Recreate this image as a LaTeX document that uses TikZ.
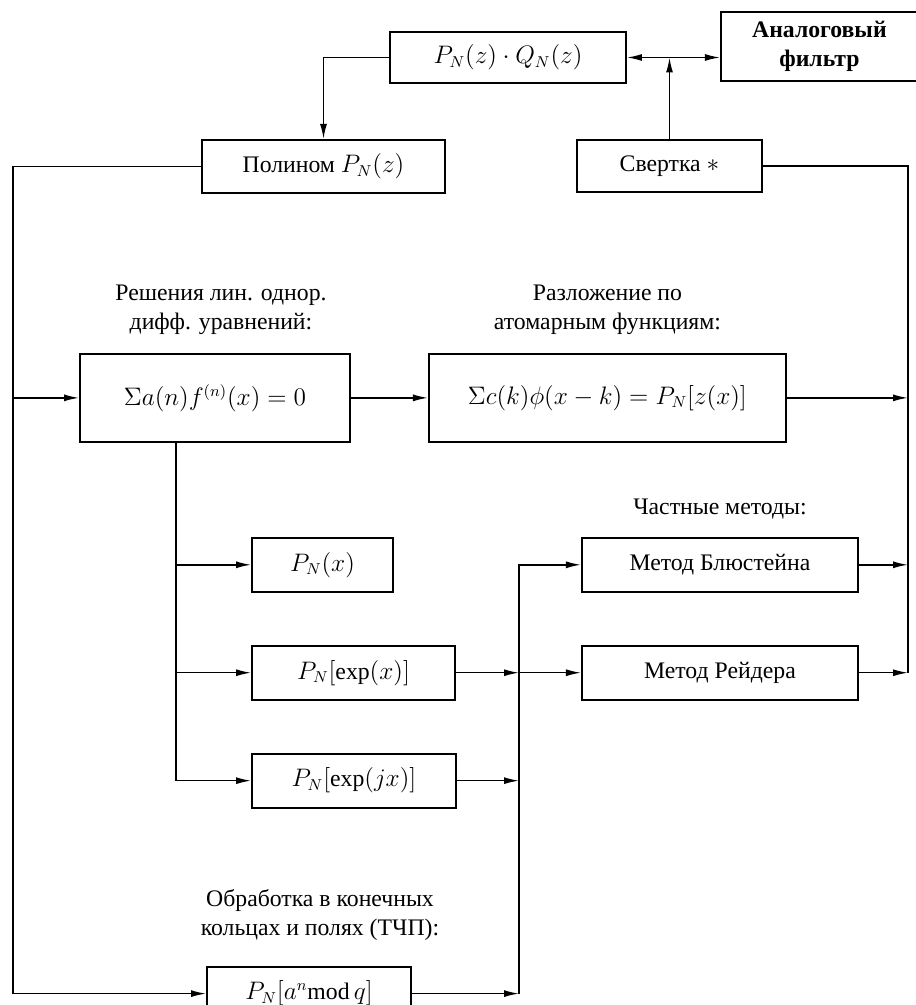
\documentclass[tikz,border=0pt]{standalone}
\usepackage{fontspec}
\setmainfont{Liberation Serif}
\usepackage{amsmath}
\usetikzlibrary{arrows.meta,positioning}
\newcommand{\diagfont}{\fontsize{13.5}{16.5}\selectfont}
\tikzset{
  blk/.style={draw,line width=1.1pt,inner sep=2pt,align=center,font=\diagfont},
  note/.style={align=center,inner sep=0pt,font=\diagfont},
  arr/.style={-{Latex[length=3mm,width=1.4mm]},line width=.85pt},
  dbl/.style={{Latex[length=3mm,width=1.4mm]}-{Latex[length=3mm,width=1.4mm]},line width=.85pt},
  wire/.style={line width=.85pt},
}
\begin{document}
\begin{tikzpicture}[node distance=1.04cm]
  \useasboundingbox (0,0) rectangle (18.3,-20.1);
  % top row
  \node[blk,minimum width=4.72cm,minimum height=1.02cm] (prod) at (10.16,-1.15) {$P_N(z)\cdot Q_N(z)$};
  \node[blk,minimum width=3.94cm,minimum height=1.38cm,font=\diagfont\bfseries,right=1.86cm of prod,yshift=.22cm] (filt) {Аналоговый\\фильтр};
  \node[blk,minimum width=4.86cm,minimum height=1.06cm,below=1.1cm of prod,xshift=-3.69cm] (poly) {Полином $P_N(z)$};
  \node[blk,minimum width=3.7cm,minimum height=1.04cm,below=1.1cm of prod,xshift=3.23cm] (conv) {Свертка $\ast$};
  % middle
  \node[blk,minimum width=5.4cm,minimum height=1.76cm,below=3.18cm of poly,xshift=-2.17cm] (sumA) {$\Sigma a(n)f^{(n)}(x)=0$};
  \node[blk,minimum width=7.14cm,minimum height=1.76cm,right=1.54cm of sumA] (sumC) {$\Sigma c(k)\phi(x-k)=P_N[z(x)]$};
  \node[note,above=.35cm of sumA,xshift=.12cm] (solve) {Решения лин. однор.\\дифф. уравнений:};
  \node[note,above=.35cm of sumC] (expand) {Разложение по\\атомарным функциям:};
  % branches
  \node[blk,minimum width=2.82cm,minimum height=1.08cm,below=1.88cm of sumA.south west,anchor=north west,xshift=3.44cm] (px) {$P_N(x)$};
  \node[blk,minimum width=4.06cm,minimum height=1.08cm,below=of px.south west,anchor=north west] (expx) {$P_N[\exp(x)]$};
  \node[blk,minimum width=4.08cm,minimum height=1.08cm,below=of expx.south west,anchor=north west] (expjx) {$P_N[\exp(jx)]$};
  \node[blk,minimum width=5.52cm,minimum height=1.08cm,right=3.74cm of px] (blu) {Метод Блюстейна};
  \node[blk,minimum width=5.52cm,minimum height=1.08cm,below=of blu] (reid) {Метод Рейдера};
  \node[note,above=.35cm of blu] (special) {Частные методы:};
  \node[blk,minimum width=4.08cm,minimum height=1.08cm,below=3.14cm of expjx.south west,anchor=north west,xshift=-.9cm] (amod) {$P_N[a^n\mathrm{mod}\,q]$};
  \node[note,above=.5cm of amod,xshift=.22cm] (finite) {Обработка в конечных\\кольцах и полях (ТЧП):};
  % bus lines
  \coordinate (lft) at (0.26,0);
  \coordinate (rgt) at (18.16,0);
  \coordinate (br) at (3.52,0);
  \coordinate (jn) at (10.38,0);
  \draw[arr] (prod.west) -| (poly.north);
  \draw[dbl] (prod.east) -- (prod.east -| filt.west);
  \draw[arr] (conv.north) -- (conv.north |- prod.east);
  \draw[arr] (poly.west) -| (lft |- amod.west) -- (amod.west);
  \draw[arr] (lft |- sumA.west) -- (sumA.west);
  \draw[arr] (sumA) -- (sumC);
  \draw[wire] (conv.east) -| (rgt |- reid.east);
  \draw[arr] (sumC) -- (rgt |- sumC.east);
  \draw[arr] (blu) -- (rgt |- blu.east);
  \draw[arr] (reid) -- (rgt |- reid.east);
  \draw[arr] (br |- sumA.south) |- (expjx);
  \draw[arr] (br |- px.west) -- (px);
  \draw[arr] (br |- expx.west) -- (expx);
  \draw[arr] (amod) -- (jn |- amod.east);
  \draw[arr] (jn |- amod.east) |- (blu);
  \draw[arr] (expx) -- (jn |- expx.east);
  \draw[arr] (jn |- expx.east) -- (reid);
  \draw[arr] (expjx) -- (jn |- expjx.east);
\end{tikzpicture}
\end{document}
